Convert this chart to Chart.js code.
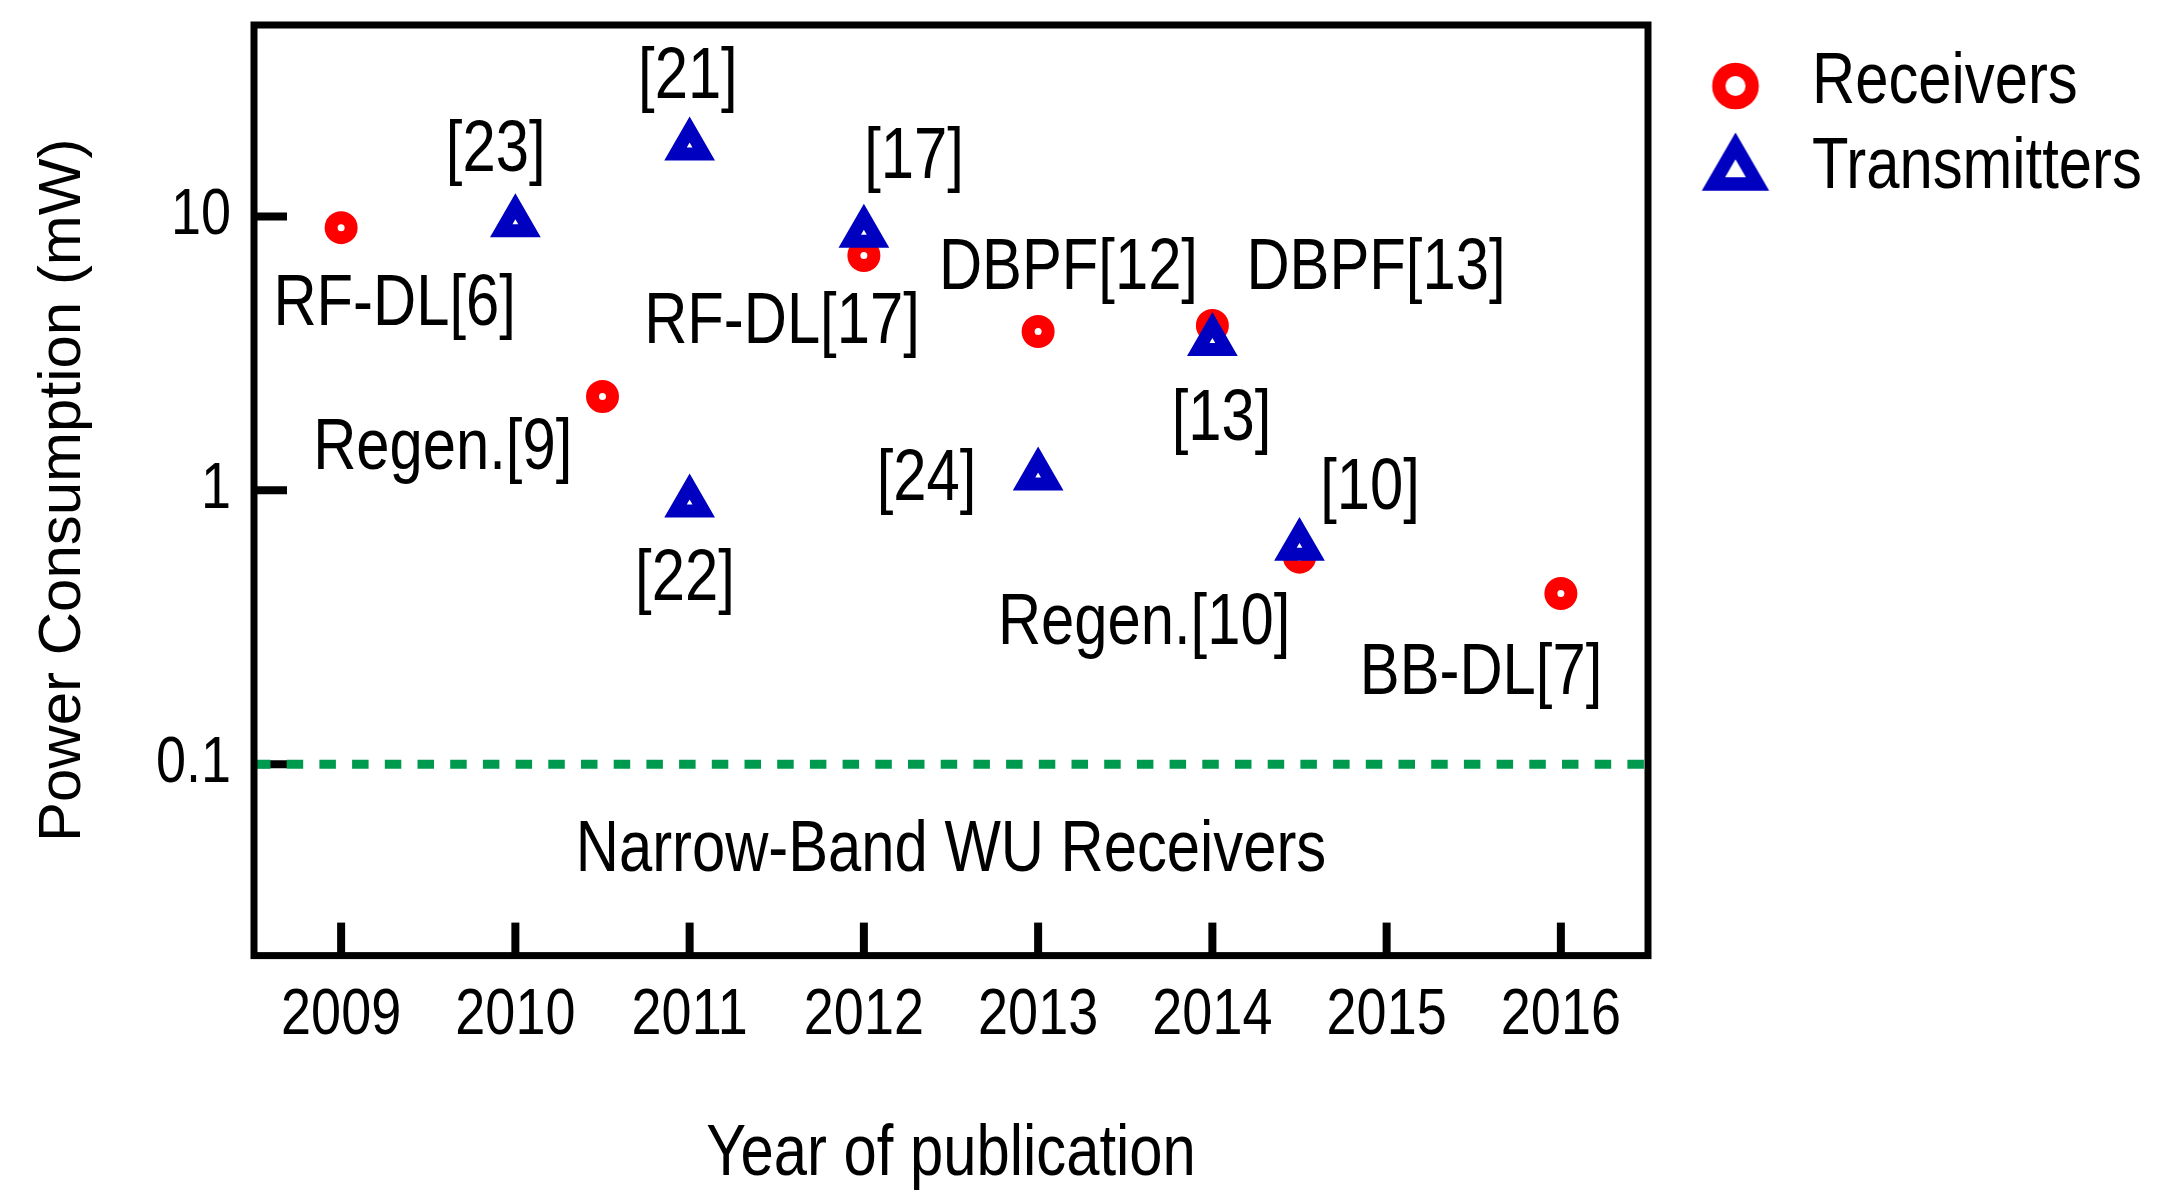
<!DOCTYPE html>
<html>
<head>
<meta charset="utf-8">
<script src="https://cdn.jsdelivr.net/npm/chart.js@4/dist/chart.umd.min.js"></script>
<style>
  html, body { margin: 0; padding: 0; background: #ffffff; }
  #wrap { width: 2168px; height: 1204px; }
  canvas { display: block; }
</style>
</head>
<body>
<div id="wrap"><canvas id="chart" width="2168" height="1204"></canvas></div>
<script>
// ---------------- data ----------------
const receiverYears = [2009, 2010.5, 2012, 2013, 2014, 2014.5, 2016];
const receiverPower = [9.1, 2.2, 7.2, 3.8, 4.0, 0.57, 0.42];

const transmitterYears = [2010, 2011, 2011, 2012, 2013, 2014, 2014.5];
const transmitterPower = [9.5, 18.1, 0.90, 8.7, 1.13, 3.5, 0.625];

const thresholdYears = [2008.5, 2016.5];
const thresholdPower = [0.1, 0.1];

const xTickYears = [2009, 2010, 2011, 2012, 2013, 2014, 2015, 2016];
const yTickValues = [0.1, 1, 10];
const yTickLabels = ['0.1', '1', '10'];

const legendLabels = ['Receivers', 'Transmitters'];

const annotationTexts = ['[23]', '[21]', '[17]', 'RF-DL[6]', 'RF-DL[17]', 'DBPF[12]', 'DBPF[13]',
  'Regen.[9]', '[24]', '[22]', '[13]', '[10]', 'Regen.[10]', 'BB-DL[7]', 'Narrow-Band WU Receivers'];
const annotationYears = [2009.887, 2010.99, 2012.288, 2009.307, 2011.53, 2013.174, 2014.939,
  2009.583, 2012.36, 2010.973, 2014.053, 2014.905, 2013.608, 2015.542, 2012.5];
const annotationPower = [14.7, 27.0, 13.8, 4.0, 3.46, 5.42, 5.42,
  1.195, 0.925, 0.396, 1.52, 0.853, 0.274, 0.181, 0.0406];

// ---------------- fonts ----------------
// Narrow face requested as "Arial Narrow"; if it is not installed the text is drawn
// with Liberation Sans compressed horizontally to the Arial Narrow proportions.
const NARROW = '"Arial Narrow", "Liberation Sans", Arial, sans-serif';
const REGULAR = '"Liberation Sans", Arial, sans-serif';

const probe = document.createElement('canvas').getContext('2d');
probe.font = '40px "Arial Narrow", monospace';
const wNarrow = probe.measureText('Receivers 2009').width;
probe.font = '40px monospace';
const wMono = probe.measureText('Receivers 2009').width;
const NARROW_SCALE = Math.abs(wNarrow - wMono) < 0.5 ? 0.83 : 1;

function patchNarrow(ctx) {
  const proto = CanvasRenderingContext2D.prototype;
  const isNarrow = c => NARROW_SCALE !== 1 && c.font.indexOf('Arial Narrow') >= 0;
  ctx.fillText = function (text, x, y, maxWidth) {
    if (isNarrow(this)) {
      this.save();
      this.translate(x, y);
      this.scale(NARROW_SCALE, 1);
      if (maxWidth === undefined || maxWidth === null) proto.fillText.call(this, text, 0, 0);
      else proto.fillText.call(this, text, 0, 0, maxWidth / NARROW_SCALE);
      this.restore();
    } else if (maxWidth === undefined || maxWidth === null) {
      proto.fillText.call(this, text, x, y);
    } else {
      proto.fillText.call(this, text, x, y, maxWidth);
    }
  };
  ctx.measureText = function (text) {
    const m = proto.measureText.call(this, text);
    if (!isNarrow(this)) return m;
    return {
      width: m.width * NARROW_SCALE,
      actualBoundingBoxLeft: m.actualBoundingBoxLeft * NARROW_SCALE,
      actualBoundingBoxRight: m.actualBoundingBoxRight * NARROW_SCALE,
      actualBoundingBoxAscent: m.actualBoundingBoxAscent,
      actualBoundingBoxDescent: m.actualBoundingBoxDescent,
      fontBoundingBoxAscent: m.fontBoundingBoxAscent,
      fontBoundingBoxDescent: m.fontBoundingBoxDescent
    };
  };
  return ctx;
}

// ---------------- styling ----------------
const RED = '#ff0000';
const BLUE = '#0000c0';
const GREEN = '#009a4e';

const CANVAS_W = 2168;
const PLOT_LEFT = 254, PLOT_RIGHT = 1648;
const LEGEND_PAD = 13, LEGEND_BOX = 115, LEGEND_FONT = 72;

const mctx = patchNarrow(document.createElement('canvas').getContext('2d'));
mctx.font = LEGEND_FONT + 'px ' + NARROW;
const legendTextW = Math.max(...legendLabels.map(t => mctx.measureText(t).width));
mctx.font = '65px ' + NARROW;
const yLabelW = Math.max(...yTickLabels.map(t => mctx.measureText(t).width));

const rightPad = Math.max(0, CANVAS_W - PLOT_RIGHT - (LEGEND_PAD + LEGEND_BOX + LEGEND_FONT / 2 + legendTextW + 10));
const yTitlePadBottom = Math.max(0, PLOT_LEFT - 72 - 27 - 23 - yLabelW);

// legend icons
function makeCircleIcon() {
  const c = document.createElement('canvas');
  c.width = 84; c.height = 56;
  const g = c.getContext('2d');
  g.beginPath();
  g.arc(42 + 17, 28 + 3, 16.7, 0, Math.PI * 2);
  g.fillStyle = '#ffffff'; g.fill();
  g.lineWidth = 13.3; g.strokeStyle = RED; g.stroke();
  return c;
}
function makeTriangleIcon() {
  const c = document.createElement('canvas');
  c.width = 114; c.height = 96;
  const g = c.getContext('2d');
  const cx = 57 + 17, cy = 48 + 3.3, r = 25.5;
  g.beginPath();
  for (let k = 0; k < 3; k++) {
    const a = k * 2 * Math.PI / 3;
    const px = cx + Math.sin(a) * r, py = cy - Math.cos(a) * r;
    if (k === 0) g.moveTo(px, py); else g.lineTo(px, py);
  }
  g.closePath();
  g.fillStyle = '#ffffff'; g.fill();
  g.lineJoin = 'miter'; g.lineWidth = 13.4; g.strokeStyle = BLUE; g.stroke();
  return c;
}
const circleIcon = makeCircleIcon();
const triangleIcon = makeTriangleIcon();

// ---------------- plugins ----------------
const whiteBg = {
  id: 'whiteBg',
  beforeDraw(chart) {
    const ctx = chart.ctx;
    ctx.save();
    ctx.fillStyle = '#ffffff';
    ctx.fillRect(0, 0, chart.width, chart.height);
    ctx.restore();
  }
};

const innerTicks = {
  id: 'innerTicks',
  beforeDatasetsDraw(chart) {
    const {ctx, chartArea: a, scales: {x, y}} = chart;
    ctx.save();
    ctx.strokeStyle = '#000000';
    ctx.lineWidth = 8;
    ctx.lineCap = 'butt';
    y.ticks.forEach(t => {
      const py = y.getPixelForValue(t.value);
      ctx.beginPath(); ctx.moveTo(a.left, py); ctx.lineTo(a.left + 33, py); ctx.stroke();
    });
    x.ticks.forEach(t => {
      const px = x.getPixelForValue(t.value);
      ctx.beginPath(); ctx.moveTo(px, a.bottom); ctx.lineTo(px, a.bottom - 33); ctx.stroke();
    });
    ctx.restore();
  }
};

const annotationsAndFrame = {
  id: 'annotationsAndFrame',
  afterDatasetsDraw(chart) {
    const {ctx, chartArea: a, scales: {x, y}} = chart;
    ctx.save();
    ctx.fillStyle = '#000000';
    ctx.font = '72px ' + NARROW;
    ctx.textAlign = 'center';
    ctx.textBaseline = 'alphabetic';
    annotationTexts.forEach((t, i) => {
      ctx.fillText(t, x.getPixelForValue(annotationYears[i]), y.getPixelForValue(annotationPower[i]));
    });
    ctx.strokeStyle = '#000000';
    ctx.lineWidth = 7;
    ctx.lineJoin = 'miter';
    ctx.strokeRect(a.left, a.top, a.right - a.left, a.bottom - a.top);
    ctx.restore();
  }
};

// ---------------- chart ----------------
Chart.defaults.font.family = NARROW;
Chart.defaults.color = '#000000';

const canvasEl = document.getElementById('chart');
patchNarrow(canvasEl.getContext('2d'));

new Chart(canvasEl, {
  type: 'scatter',
  data: {
    datasets: [
      {
        label: legendLabels[0],
        data: receiverYears.map((yr, i) => ({x: yr, y: receiverPower[i]})),
        pointStyle: 'circle',
        radius: 10,
        hoverRadius: 10,
        borderWidth: 13,
        hoverBorderWidth: 13,
        borderColor: RED,
        backgroundColor: '#ffffff',
        order: 2
      },
      {
        label: legendLabels[1],
        data: transmitterYears.map((yr, i) => ({x: yr, y: transmitterPower[i]})),
        pointStyle: 'triangle',
        radius: 16.3,
        hoverRadius: 16.3,
        borderWidth: 13,
        hoverBorderWidth: 13,
        borderColor: BLUE,
        backgroundColor: '#ffffff',
        order: 1
      },
      {
        label: 'threshold',
        data: thresholdYears.map((yr, i) => ({x: yr, y: thresholdPower[i]})),
        showLine: true,
        borderColor: GREEN,
        backgroundColor: GREEN,
        borderWidth: 9,
        borderDash: [16.5, 16.2],
        pointRadius: 0,
        hoverRadius: 0,
        order: 3
      }
    ]
  },
  options: {
    responsive: false,
    animation: false,
    events: [],
    devicePixelRatio: 1,
    layout: { autoPadding: false, padding: { left: 0, top: 25, right: rightPad, bottom: 0 } },
    plugins: {
      tooltip: { enabled: false },
      legend: {
        display: true,
        position: 'right',
        align: 'start',
        onClick: null,
        title: { display: true, text: '', font: { size: 1, lineHeight: 1 }, padding: { top: 8, bottom: 0 } },
        labels: {
          usePointStyle: true,
          pointStyleWidth: LEGEND_BOX,
          padding: LEGEND_PAD,
          color: '#000000',
          font: { family: NARROW, size: LEGEND_FONT, lineHeight: 1 },
          generateLabels: () => [
            { text: legendLabels[0], pointStyle: circleIcon, fillStyle: '#ffffff', strokeStyle: RED,
              lineWidth: 0, hidden: false, datasetIndex: 0, fontColor: '#000000' },
            { text: legendLabels[1], pointStyle: triangleIcon, fillStyle: '#ffffff', strokeStyle: BLUE,
              lineWidth: 0, hidden: false, datasetIndex: 1, fontColor: '#000000' }
          ]
        }
      }
    },
    scales: {
      x: {
        type: 'linear',
        position: 'bottom',
        min: 2008.5,
        max: 2016.5,
        afterBuildTicks: axis => { axis.ticks = xTickYears.map(v => ({value: v})); },
        grid: { display: false, drawTicks: false },
        border: { display: false },
        ticks: {
          autoSkip: false,
          maxRotation: 0,
          padding: 21,
          font: { family: NARROW, size: 65, lineHeight: 1.2 },
          callback: v => String(v)
        },
        title: {
          display: true,
          text: 'Year of publication',
          font: { family: NARROW, size: 72, lineHeight: 1.2 },
          padding: { top: 36, bottom: 6 }
        }
      },
      y: {
        type: 'logarithmic',
        position: 'left',
        min: 0.02,
        max: 50,
        afterBuildTicks: axis => { axis.ticks = yTickValues.map(v => ({value: v})); },
        grid: { display: true, drawOnChartArea: false, drawTicks: true, tickLength: 23, color: 'rgba(0,0,0,0)', tickColor: 'rgba(0,0,0,0)' },
        border: { display: false },
        ticks: {
          autoSkip: false,
          padding: 0,
          font: { family: NARROW, size: 65, lineHeight: 0.2 },
          callback: (v) => { const i = yTickValues.indexOf(v); return i >= 0 ? yTickLabels[i] : ''; }
        },
        title: {
          display: true,
          text: 'Power Consumption (mW)',
          font: { family: REGULAR, size: 60, lineHeight: 1.2 },
          padding: { top: 27, bottom: yTitlePadBottom }
        }
      }
    }
  },
  plugins: [whiteBg, innerTicks, annotationsAndFrame]
});
</script>
</body>
</html>
